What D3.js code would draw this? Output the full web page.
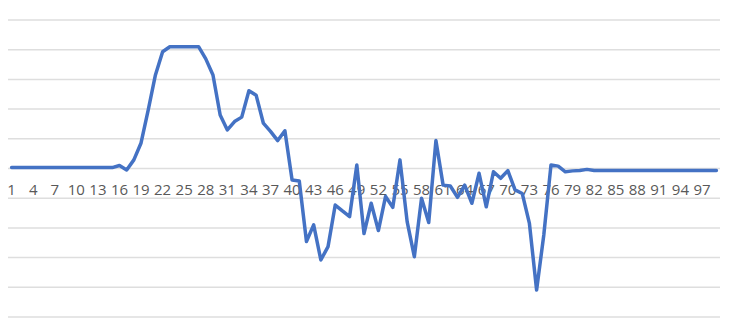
<!DOCTYPE html>
<html>
<head>
<meta charset="utf-8">
<script src="https://cdn.jsdelivr.net/npm/d3@7"></script>
<style>
  body { margin: 0; background: #fff; }
  .tick text { font-family: "Open Sans", sans-serif; fill: #595959; }
</style>
</head>
<body>
<div id="chart"></div>
<script>

// values, one per category (1..99)
let categories = d3.range(1, 100)
let values = [
  0.03, 0.03, 0.03, 0.03, 0.03, 0.03, 0.03, 0.03, 0.03, 0.03,
  0.03, 0.03, 0.03, 0.03, 0.03, 0.10, -0.05, 0.29, 0.86, 1.97,
  3.15, 3.93, 4.10, 4.10, 4.10, 4.10, 4.10, 3.69, 3.15, 1.80,
  1.30, 1.58, 1.73, 2.62, 2.47, 1.53, 1.25, 0.94, 1.27, -0.39,
  -0.42, -2.46, -1.90, -3.08, -2.63, -1.23, -1.43, -1.62, 0.12, -2.19,
  -1.17, -2.09, -0.94, -1.31, 0.29, -1.79, -2.97, -1.00, -1.82, 0.94,
  -0.56, -0.59, -0.97, -0.56, -1.17, -0.16, -1.29, -0.11, -0.33, -0.07,
  -0.72, -0.84, -1.85, -4.09, -2.24, 0.12, 0.08, -0.11, -0.08, -0.07,
  -0.03, -0.07, -0.07, -0.07, -0.07, -0.07, -0.07, -0.07, -0.07, -0.07,
  -0.07, -0.07, -0.07, -0.07, -0.07, -0.07, -0.07, -0.07, -0.07
]
let gridValues = d3.range(-5, 6)
let tickLabels = categories.filter(function(d){ return (d - 1) % 3 == 0 })

let width = 740;
let height = 327;
let margin = {top: 20, right: 20, bottom: 10, left: 8}

let x = d3.scaleBand()
  .domain(categories)
  .range([margin.left, width - margin.right])

let y = d3.scaleLinear()
  .domain([-5, 5])
  .range([height - margin.bottom, margin.top])

var svg = d3.select("#chart").append("svg")
  .attr("width", width)
  .attr("height", height);

// horizontal gridlines
svg.selectAll(".grid")
  .data(gridValues)
  .join("line")
  .attr("class", "grid")
  .attr("x1", margin.left)
  .attr("x2", width - margin.right)
  .attr("y1", function(d){ return y(d) })
  .attr("y2", function(d){ return y(d) })
  .style("stroke", "#dedede")
  .style("stroke-width", 1.5)

// category labels sit just under the zero line
let xAxis = svg.append("g")
  .attr("transform", "translate(0," + y(0) + ")")
  .call(d3.axisBottom(x).tickValues(tickLabels).tickSize(0).tickPadding(16))

xAxis.select(".domain").remove()
xAxis.selectAll("text").style("font-size", "15px")

let line = d3.line()
  .x(function(d, i){ return x(categories[i]) + x.bandwidth() / 2 })
  .y(function(d){ return y(d) })

svg.append("path")
  .datum(values)
  .attr("d", line)
  .style("fill", "none")
  .style("stroke", "#4472c4")
  .style("stroke-width", 3.5)
  .style("stroke-linejoin", "round")
  .style("stroke-linecap", "round")

</script>
</body>
</html>
